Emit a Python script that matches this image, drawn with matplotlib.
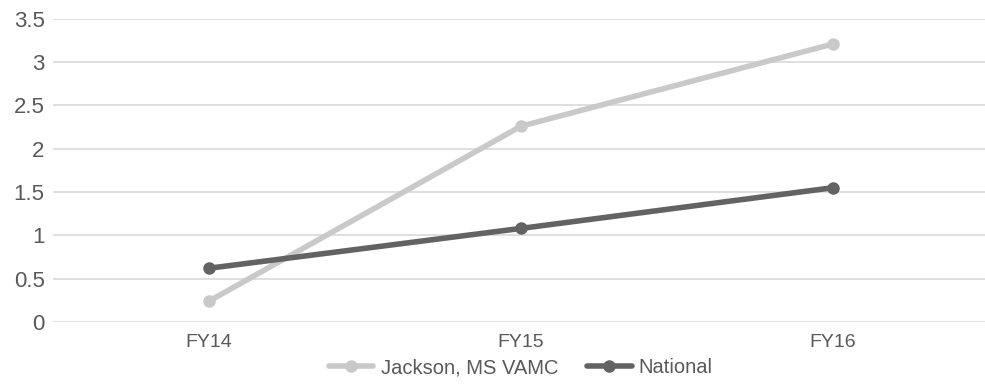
import matplotlib
matplotlib.use("Agg")
import matplotlib.pyplot as plt

# dataset
years = ["FY14", "FY15", "FY16"]
jackson = [0.24, 2.26, 3.21]
national = [0.62, 1.08, 1.55]
y_ticks = [0, 0.5, 1, 1.5, 2, 2.5, 3, 3.5]
y_labels = ["0", "0.5", "1", "1.5", "2", "2.5", "3", "3.5"]

plt.rcParams["font.family"] = ["Liberation Sans", "DejaVu Sans"]

fig = plt.figure(figsize=(9.85, 3.86), dpi=100)
ax = fig.add_axes([0.0538, 0.166, 0.95, 0.785])

x = range(len(years))
ax.plot(x, jackson, color="#c9c9c9", lw=4, marker="o", ms=8,
        label="Jackson, MS VAMC", solid_capstyle="round")
ax.plot(x, national, color="#636363", lw=4, marker="o", ms=8,
        label="National", solid_capstyle="round")

ax.set_xlim(-0.5, 2.5)
ax.set_ylim(0, 3.5)
ax.set_xticks(list(x))
ax.set_xticklabels(years, fontsize=14, color="#595959")
ax.set_yticks(y_ticks)
ax.set_yticklabels(y_labels, fontsize=16, color="#595959")
ax.tick_params(length=0)
ax.tick_params(axis="x", pad=9)
ax.tick_params(axis="y", pad=6)

for s in ax.spines.values():
    s.set_visible(False)
ax.grid(axis="y", color="#d9d9d9", lw=1.2)
ax.set_axisbelow(True)

leg = ax.legend(loc="center", bbox_to_anchor=(0.5, -0.152), ncol=2,
                frameon=False, fontsize=14.5, handlelength=2.2,
                columnspacing=1.45, handletextpad=0.35,
                borderaxespad=0, borderpad=0)
for t in leg.get_texts():
    t.set_color("#595959")

fig.savefig("out.png", dpi=100)
